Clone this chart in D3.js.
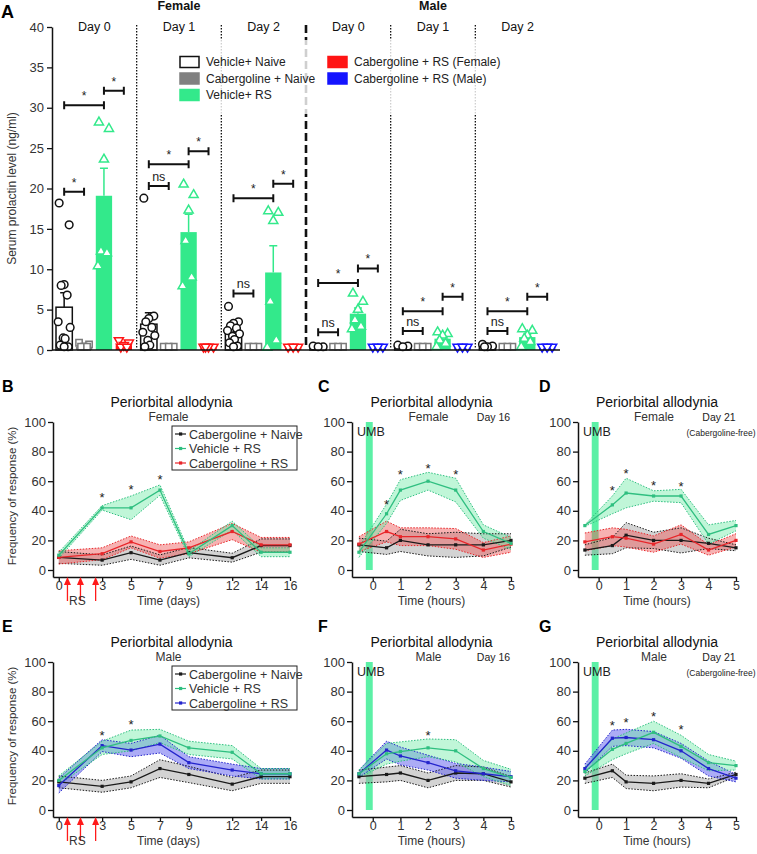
<!DOCTYPE html>
<html>
<head>
<meta charset="utf-8">
<script src="https://cdn.jsdelivr.net/npm/d3@7"></script>
<style>
    body { margin: 0; background: #ffffff; }
    svg { display: block; font-family: "Liberation Sans", Arial, sans-serif; }
</style>
</head>
<body>
<svg id="fig" width="757" height="854"></svg>
<script>
// ---- Panel A: serum prolactin (ng/ml) ----
const prolactinDays = ["Day 0", "Day 1", "Day 2", "Day 0", "Day 1", "Day 2"];
const prolactinSex = ["Female", "Male"];
const prolactinLegend = ["Vehicle+ Naive", "Cabergoline + Naive", "Vehicle+ RS", "Cabergoline + RS (Female)", "Cabergoline + RS (Male)"];
const prolactinTicks = [0, 5, 10, 15, 20, 25, 30, 35, 40];

// rows = day groups, columns = Vehicle+Naive, Cabergoline+Naive, Vehicle+RS, Cabergoline+RS
const prolactinMean = [
    [5.3, 0.4, 19.1, 0.6],
    [3.2, 0.4, 14.6, 0.4],
    [2.2, 0.4, 9.6, 0.4],
    [0.4, 0.4, 4.5, 0.4],
    [0.4, 0.4, 1.4, 0.4],
    [0.4, 0.4, 1.6, 0.4]
];
const prolactinSem = [
    [1.8, 0.1, 3.4, 0.2],
    [1.4, 0.05, 2.2, 0.05],
    [0.4, 0.05, 3.3, 0.05],
    [0.05, 0.02, 0.7, 0.02],
    [0.05, 0.02, 0.3, 0.02],
    [0.05, 0.02, 0.35, 0.02]
];
const prolactinPoints = [
    [[18.2, 15.5, 8.1, 8.0, 6.8, 3.5, 2.8, 1.5, 1.4, 0.6, 0.4, 0.4], [0.9, 0.7, 0.4, 0.4, 0.4], [28.2, 27.4, 23.6, 12.2, 12.0, 10.4], [1.2, 0.9, 0.6, 0.4, 0.4]],
    [[18.8, 4.2, 3.9, 3.5, 2.8, 2.2, 1.8, 1.2, 0.6, 0.4], [0.4, 0.4, 0.4], [20.5, 19.2, 17.3, 13.5, 9.0, 7.9], [0.4, 0.4, 0.4, 0.4]],
    [[5.4, 3.5, 3.3, 3.0, 2.7, 2.4, 2.0, 1.7, 1.3, 0.9, 0.5, 0.4], [0.4, 0.4, 0.4], [17.2, 17.0, 16.0, 6.0, 1.2, 0.3], [0.4, 0.4, 0.4]],
    [[0.5, 0.4, 0.4], [0.4, 0.4, 0.4], [7.0, 6.0, 5.0, 3.7, 2.9, 2.6], [0.4, 0.4, 0.4]],
    [[0.6, 0.5, 0.4], [0.4, 0.4, 0.4], [2.2, 2.0, 1.8, 1.2, 0.8, 0.4], [0.4, 0.4, 0.4]],
    [[0.7, 0.5, 0.4, 0.4], [0.4, 0.4, 0.4], [2.6, 2.4, 1.8, 1.4, 1.0, 0.4], [0.4, 0.4, 0.4]]
];
// [day group, from column, to column, bracket height, label]
const prolactinBrackets = [
    [0, 0, 1, 19.6, "*"], [0, 0, 2, 30.3, "*"], [0, 2, 3, 32.1, "*"],
    [1, 0, 1, 20.3, "ns"], [1, 0, 2, 23.0, "*"], [1, 2, 3, 24.6, "*"],
    [2, 0, 1, 7.0, "ns"], [2, 0, 2, 18.8, "*"], [2, 2, 3, 20.6, "*"],
    [3, 0, 1, 2.2, "ns"], [3, 0, 2, 8.3, "*"], [3, 2, 3, 10.1, "*"],
    [4, 0, 1, 2.35, "ns"], [4, 0, 2, 4.8, "*"], [4, 2, 3, 6.6, "*"],
    [5, 0, 1, 2.35, "ns"], [5, 0, 2, 4.8, "*"], [5, 2, 3, 6.6, "*"]
];

// ---- Panels B-G: periorbital allodynia, frequency of response (%) ----
const dayPoints = [0, 3, 5, 7, 9, 12, 14, 16];
const dayTicks = [0, 3, 5, 7, 9, 12, 14, 16];
const hourPoints = [-0.5, 0.5, 1, 2, 3, 4, 5];
const hourTicks = [0, 1, 2, 3, 4, 5];
const rsArrowDays = [0.6, 1.5, 2.55];
const umbWindow = [-0.25, 0];
const responseTicks = [0, 20, 40, 60, 80, 100];
const allodyniaLegend = ["Cabergoline + Naive", "Vehicle + RS", "Cabergoline + RS"];

// B: female, days
const bNaive = [8.5, 6.7, 11.7, 6.7, 11.7, 8.3, 16.5, 16.5];
const bNaiveSem = [4, 3.5, 4.5, 3.5, 3.5, 3, 4.5, 4.5];
const bVehicle = [10, 42, 42, 54, 11, 30, 12, 12];
const bVehicleSem = [2, 1.5, 8, 3.5, 2, 3, 3, 3];
const bCab = [8.5, 11, 19, 12.5, 15, 26, 17, 17];
const bCabSem = [4.5, 4, 4, 4.5, 4, 5.5, 5, 5];
const bStarX = [3, 5, 7];
const bStarY = [51, 56, 63];

// C: female, day 16
const cNaive = [17, 15, 20, 17, 17, 17, 20];
const cNaiveSem = [4.5, 4.5, 7.5, 7.5, 8.5, 7.5, 4.5];
const cVehicle = [12, 38, 54, 60, 54, 26, 18];
const cVehicleSem = [3.5, 6.5, 7, 6, 8, 4.5, 4];
const cCab = [17.5, 26, 22.5, 22.5, 21, 13.5, 17.5];
const cCabSem = [5, 7, 6, 6, 7, 5, 5.5];
const cStarX = [0.5, 1, 2, 3];
const cStarY = [46, 66, 70, 66];

// D: female, day 21
const dNaive = [13.5, 16.5, 23.5, 20, 20, 18, 15];
const dNaiveSem = [3.5, 5.5, 8.5, 5.5, 8.5, 3.5, 2];
const dVehicle = [30, 44, 52, 50, 50, 24, 30];
const dVehicleSem = [0.5, 6, 10, 3.5, 4.5, 6.5, 3.5];
const dCab = [19, 22.5, 21.5, 17.5, 24, 13.5, 20];
const dCabSem = [6, 6, 6, 5.5, 6.5, 3.5, 4.5];
const dStarX = [0.5, 1, 2, 3];
const dStarY = [55.5, 67, 58.5, 58];

// E: male, days
const eNaive = [19, 16, 19, 28, 24, 17.5, 22.5, 22.5];
const eNaiveSem = [4, 4, 4, 6, 5.5, 4.5, 4.5, 4.5];
const eVehicle = [20, 42, 47, 50, 42, 39, 24.5, 24.5];
const eVehicleSem = [3, 4.5, 7, 4.5, 4.5, 4.5, 3.5, 3.5];
const eCab = [16.5, 43.5, 40.5, 44.5, 32, 27, 24.5, 24.5];
const eCabSem = [5, 4, 4.5, 6, 4, 4, 3.5, 3.5];
const eStarX = [3, 5];
const eStarY = [52, 59.5];

// F: male, day 16
const fNaive = [22.5, 24, 25, 20, 25, 24.5, 19];
const fNaiveSem = [4.5, 5, 5, 5, 5, 4.5, 3.5];
const fVehicle = [24.5, 38, 39.5, 42, 40, 28, 22];
const fVehicleSem = [2.5, 7, 6.5, 6, 7.5, 5.5, 5.5];
const fCab = [24.5, 40.5, 36.5, 32, 26.5, 24.5, 22.5];
const fCabSem = [2.5, 6, 6, 5, 5, 4.5, 3.5];
const fStarX = [2];
const fStarY = [52];

// G: male, day 21
const gNaive = [21.5, 26.5, 19, 18, 20, 18, 24];
const gNaiveSem = [3.5, 4.5, 4.5, 5, 4.5, 3, 1.5];
const gVehicle = [26, 41, 45, 52.5, 43, 32, 30];
const gVehicleSem = [3, 7, 7, 7.5, 7.5, 5.5, 3];
const gCab = [28, 48.5, 49, 47.5, 40, 28, 21.5];
const gCabSem = [3, 5.5, 5.5, 5.5, 5, 5, 2.5];
const gStarX = [0.5, 1, 2, 3];
const gStarY = [59, 61, 65, 56];

(function () {
    "use strict";

    const svg = d3.select("#fig");
    const ink = "#333333";

    const barColors = ["#ffffff", "#808080", "#33e98b", "#ff1414"];
    const pointColors = ["#111111", "#7a7a7a", "#33e98b", "#ff1414"];
    const maleCabColor = "#1414ff";
    const jitter = [-5, 5, 0, -3, 3, -6, 6, -1, 1, -4, 4, 0];

    const style = {
        naive: { line: "#1a1a1a", fill: "#a8a8a8", opacity: 0.5 },
        vehicle: { line: "#2fbf80", fill: "#74eaa9", opacity: 0.45 },
        cabF: { line: "#e8262a", fill: "#ee5555", opacity: 0.45 },
        cabM: { line: "#2424cc", fill: "#6767ee", opacity: 0.55 }
    };

    function styleAxis(axisG, size) {
        axisG.select(".domain").attr("stroke", "#111").attr("stroke-width", 1.5);
        axisG.selectAll(".tick line").attr("stroke", "#111").attr("stroke-width", 1.3);
        axisG.selectAll(".tick text")
            .attr("fill", ink)
            .style("font-size", size + "px")
            .style("font-family", "\"Liberation Sans\", Arial, sans-serif");
    }

    function panelLetter(letter, x, y, size) {
        svg.append("text")
            .attr("x", x)
            .attr("y", y)
            .style("font-size", size + "px")
            .style("font-weight", "700")
            .attr("fill", "#000")
            .text(letter);
    }

    function symbolFor(k) {
        return [d3.symbolCircle, d3.symbolSquare, d3.symbolTriangle, d3.symbolTriangle][k];
    }

    function drawProlactin() {
        const g = svg.append("g");
        const y = d3.scaleLinear().domain([0, 40]).range([350, 27]);
        const xDay = d3.scaleBand().domain(d3.range(prolactinDays.length)).range([52, 560]);
        const xGrp = d3.scaleBand().domain(d3.range(4)).range([4, 80]).paddingInner(0.18);
        const cx = (d, k) => xDay(d) + xGrp(k) + xGrp.bandwidth() / 2;
        const colorOf = (d, k) => (k === 3 && d >= 3 ? maleCabColor : pointColors[k]);
        const fillOf = (d, k) => (k === 3 && d >= 3 ? maleCabColor : barColors[k]);

        panelLetter("A", 1, 18, 18);

        // separators between day groups
        d3.range(1, prolactinDays.length).forEach((d) => {
            const isSexSplit = d === 3;
            g.append("line")
                .attr("x1", xDay(d)).attr("x2", xDay(d))
                .attr("y1", 25).attr("y2", 349)
                .attr("stroke", "#111")
                .attr("stroke-width", isSexSplit ? 2.6 : 1.3)
                .attr("stroke-dasharray", isSexSplit ? "8,4" : "1.5,1.5");
        });

        // sex and day headers
        [[0, 3], [3, 6]].forEach(([a, b], i) => {
            g.append("text")
                .attr("x", (xDay(a) + xDay(b - 1) + xDay.bandwidth()) / 2)
                .attr("y", 10)
                .attr("text-anchor", "middle")
                .style("font-size", "12.5px")
                .style("font-weight", "700")
                .attr("fill", "#111")
                .text(prolactinSex[i]);
        });
        prolactinDays.forEach((label, d) => {
            g.append("text")
                .attr("x", xDay(d) + xDay.bandwidth() / 2)
                .attr("y", 31)
                .attr("text-anchor", "middle")
                .style("font-size", "12.5px")
                .attr("fill", "#111")
                .text(label);
        });

        // legend with a translucent backing
        const legend = g.append("g");
        legend.append("rect")
            .attr("x", 176).attr("y", 40)
            .attr("width", 326).attr("height", 74)
            .attr("fill", "#ffffff").attr("fill-opacity", 0.8);
        const legendFill = ["#ffffff", barColors[1], barColors[2], barColors[3], maleCabColor];
        prolactinLegend.forEach((label, i) => {
            const col = i < 3 ? 0 : 1;
            const row = i < 3 ? i : i - 3;
            const lx = col === 0 ? 180 : 328;
            const ly = 62 + row * 16.5;
            legend.append("rect")
                .attr("x", lx).attr("y", ly - 5.5)
                .attr("width", 19).attr("height", 11)
                .attr("fill", legendFill[i])
                .attr("stroke", i === 0 ? "#111" : legendFill[i])
                .attr("stroke-width", 1.5);
            legend.append("text")
                .attr("x", lx + 26).attr("y", ly + 4)
                .style("font-size", "12px")
                .attr("fill", "#222")
                .text(label);
        });

        // bars with upper error bars
        prolactinMean.forEach((row, d) => {
            row.forEach((m, k) => {
                g.append("rect")
                    .attr("x", xDay(d) + xGrp(k))
                    .attr("width", xGrp.bandwidth())
                    .attr("y", y(m))
                    .attr("height", y(0) - y(m))
                    .attr("fill", fillOf(d, k))
                    .attr("stroke", k === 0 ? "#111" : "none")
                    .attr("stroke-width", 1.5);
                const top = y(m + prolactinSem[d][k]);
                const c = cx(d, k);
                g.append("path")
                    .attr("d", `M${c},${y(m)}V${top}M${c - 4},${top}H${c + 4}`)
                    .attr("stroke", colorOf(d, k))
                    .attr("stroke-width", 1.5)
                    .attr("fill", "none");
            });
        });

        // individual animals
        prolactinPoints.forEach((groups, d) => {
            groups.forEach((vals, k) => {
                const sym = d3.symbol().type(symbolFor(k)).size(k === 0 ? 46 : k === 1 ? 40 : 36);
                g.append("g")
                    .selectAll("path")
                    .data(vals)
                    .join("path")
                    .attr("d", sym)
                    .attr("transform", (v, i) => `translate(${cx(d, k) + jitter[i % jitter.length]},${y(v)})${k === 3 ? " rotate(180)" : ""}`)
                    .attr("fill", "#ffffff")
                    .attr("stroke", colorOf(d, k))
                    .attr("stroke-width", 1.5);
            });
        });

        // significance brackets
        prolactinBrackets.forEach(([d, a, b, v, label]) => {
            const x1 = cx(d, a);
            const x2 = cx(d, b);
            const yy = y(v);
            g.append("path")
                .attr("d", `M${x1},${yy - 4}V${yy + 4}M${x1},${yy}H${x2}M${x2},${yy - 4}V${yy + 4}`)
                .attr("stroke", "#111")
                .attr("stroke-width", 2)
                .attr("fill", "none");
            g.append("text")
                .attr("x", (x1 + x2) / 2)
                .attr("y", yy - 5)
                .attr("text-anchor", "middle")
                .style("font-size", label === "ns" ? "12.5px" : "12px")
                .attr("fill", "#222")
                .text(label);
        });

        // axes
        const axisG = g.append("g")
            .attr("transform", "translate(52,0)")
            .call(d3.axisLeft(y).tickValues(prolactinTicks).tickSize(5).tickSizeOuter(0).tickPadding(3));
        styleAxis(axisG, 13);
        g.append("line")
            .attr("x1", 52).attr("x2", 560)
            .attr("y1", y(0)).attr("y2", y(0))
            .attr("stroke", "#111").attr("stroke-width", 1.5);

        g.append("text")
            .attr("transform", `translate(16,${(y(0) + y(40)) / 2}) rotate(-90)`)
            .attr("text-anchor", "middle")
            .style("font-size", "12px")
            .attr("fill", ink)
            .text("Serum prolactin level (ng/ml)");
    }

    function drawLinePanel(p) {
        const g = svg.append("g");
        const x = d3.scaleLinear().domain(p.xDomain).range(p.xRange);
        const y = d3.scaleLinear().domain([-4.73, 100]).range([p.yZero + 7, p.yZero - 148]);
        const xs = p.days ? dayPoints : hourPoints;
        const mid = (p.xRange[0] + p.xRange[1]) / 2;

        panelLetter(p.letter, p.letterX, p.yZero - 178, 16);

        if (!p.days) {
            g.append("rect")
                .attr("x", x(umbWindow[0]))
                .attr("width", x(umbWindow[1]) - x(umbWindow[0]))
                .attr("y", y(100))
                .attr("height", y(0) - y(100))
                .attr("fill", "#5cf0a6");
            g.append("text")
                .attr("x", p.xRange[0] + 5)
                .attr("y", y(100) + 14)
                .style("font-size", "12.5px")
                .attr("fill", "#222")
                .text("UMB");
        }

        const rowsOf = (s) => xs.map((t, i) => ({ t, m: s.mean[i], lo: s.mean[i] - s.sem[i], hi: s.mean[i] + s.sem[i] }));
        const area = d3.area().x((r) => x(r.t)).y0((r) => y(r.lo)).y1((r) => y(r.hi));
        const edgeHi = d3.line().x((r) => x(r.t)).y((r) => y(r.hi));
        const edgeLo = d3.line().x((r) => x(r.t)).y((r) => y(r.lo));
        const meanLine = d3.line().x((r) => x(r.t)).y((r) => y(r.m));

        p.series.forEach((s) => {
            g.append("path")
                .attr("d", area(rowsOf(s)))
                .attr("fill", s.style.fill)
                .attr("fill-opacity", s.style.opacity);
        });
        p.series.forEach((s) => {
            [edgeHi, edgeLo].forEach((edge) => {
                g.append("path")
                    .attr("d", edge(rowsOf(s)))
                    .attr("fill", "none")
                    .attr("stroke", s.style.line)
                    .attr("stroke-width", 1)
                    .attr("stroke-dasharray", "1.5,1.5");
            });
        });
        p.series.forEach((s) => {
            const rows = rowsOf(s);
            g.append("path")
                .attr("d", meanLine(rows))
                .attr("fill", "none")
                .attr("stroke", s.style.line)
                .attr("stroke-width", 1.3);
            g.append("g")
                .selectAll("rect")
                .data(rows)
                .join("rect")
                .attr("x", (r) => x(r.t) - 1.6)
                .attr("y", (r) => y(r.m) - 1.6)
                .attr("width", 3.2)
                .attr("height", 3.2)
                .attr("fill", s.style.line);
        });

        p.starX.forEach((t, i) => {
            g.append("text")
                .attr("x", x(t))
                .attr("y", y(p.starY[i]) + 7)
                .attr("text-anchor", "middle")
                .style("font-size", "13px")
                .attr("fill", "#222")
                .text("*");
        });

        const yAxis = g.append("g")
            .attr("transform", `translate(${p.xRange[0]},0)`)
            .call(d3.axisLeft(y).tickValues(responseTicks).tickSize(5).tickSizeOuter(0).tickPadding(2));
        styleAxis(yAxis, 13);
        const xAxis = g.append("g")
            .attr("transform", `translate(0,${p.yZero + 7})`)
            .call(d3.axisBottom(x)
                .tickValues(p.days ? dayTicks : hourTicks)
                .tickFormat(d3.format("d"))
                .tickSize(4)
                .tickSizeOuter(0)
                .tickPadding(0));
        styleAxis(xAxis, 12.5);

        g.append("text")
            .attr("x", mid + (p.days ? -3 : 0))
            .attr("y", p.yZero + 35)
            .attr("text-anchor", "middle")
            .style("font-size", "12px")
            .attr("fill", ink)
            .text(p.days ? "Time (days)" : "Time (hours)");

        if (p.yLabel) {
            g.append("text")
                .attr("transform", `translate(16,${(y(0) + y(100)) / 2}) rotate(-90)`)
                .attr("text-anchor", "middle")
                .style("font-size", "11.5px")
                .attr("fill", ink)
                .text("Frequency of response (%)");
        }

        // titles
        g.append("text")
            .attr("x", mid)
            .attr("y", p.yZero - 163)
            .attr("text-anchor", "middle")
            .style("font-size", "14px")
            .attr("fill", "#111")
            .text("Periorbital allodynia");
        g.append("text")
            .attr("x", mid - 3)
            .attr("y", p.yZero - 149)
            .attr("text-anchor", "middle")
            .style("font-size", "12px")
            .attr("fill", ink)
            .text(p.sex);
        if (p.dayNote) {
            g.append("text")
                .attr("x", mid + 62)
                .attr("y", p.yZero - 149)
                .attr("text-anchor", "middle")
                .style("font-size", "10.5px")
                .attr("fill", "#222")
                .text(p.dayNote);
        }
        if (p.freeNote) {
            g.append("text")
                .attr("x", mid + 64)
                .attr("y", p.yZero - 134)
                .attr("text-anchor", "middle")
                .style("font-size", "8.5px")
                .attr("fill", "#222")
                .text("(Cabergoline-free)");
        }

        if (p.legend) {
            const top = p.yZero - 144;
            const lg = g.append("g");
            lg.append("rect")
                .attr("x", 172).attr("y", top)
                .attr("width", 125).attr("height", 44)
                .attr("fill", "#ffffff")
                .attr("stroke", "#222")
                .attr("stroke-width", 1);
            const order = [p.series[0], p.series[2], p.series[1]];
            allodyniaLegend.forEach((label, i) => {
                const ly = top + 8 + i * 14.5;
                lg.append("line")
                    .attr("x1", 175).attr("x2", 186)
                    .attr("y1", ly).attr("y2", ly)
                    .attr("stroke", order[i].style.line)
                    .attr("stroke-width", 1.2);
                lg.append("rect")
                    .attr("x", 179).attr("y", ly - 1.6)
                    .attr("width", 3.2).attr("height", 3.2)
                    .attr("fill", order[i].style.line);
                lg.append("text")
                    .attr("x", 189).attr("y", ly + 4.5)
                    .style("font-size", "12.5px")
                    .attr("fill", ink)
                    .text(label);
            });
        }

        if (p.days) {
            const base = p.yZero + 7;
            rsArrowDays.forEach((t) => {
                const ax = x(t);
                g.append("line")
                    .attr("x1", ax).attr("x2", ax)
                    .attr("y1", base + 6).attr("y2", base + 24)
                    .attr("stroke", "#ff1a1a")
                    .attr("stroke-width", 1.3);
                g.append("path")
                    .attr("d", `M${ax},${base}L${ax - 3.5},${base + 8}L${ax + 3.5},${base + 8}Z`)
                    .attr("fill", "#ff1a1a");
            });
            g.append("text")
                .attr("x", x(rsArrowDays[1]) - 3)
                .attr("y", base + 28)
                .attr("text-anchor", "middle")
                .style("font-size", "12px")
                .attr("fill", ink)
                .text("RS");
        }
    }

    const series = (mean, sem, st) => ({ mean, sem, style: st });

    drawProlactin();

    const panels = [
        { letter: "B", letterX: 2, days: true, xDomain: [-0.4, 16], xRange: [53, 290], yZero: 570, sex: "Female", yLabel: true, legend: true,
          series: [series(bNaive, bNaiveSem, style.naive), series(bCab, bCabSem, style.cabF), series(bVehicle, bVehicleSem, style.vehicle)],
          starX: bStarX, starY: bStarY },
        { letter: "C", letterX: 318, days: false, xDomain: [-0.75, 5], xRange: [352, 511], yZero: 570, sex: "Female", dayNote: "Day 16",
          series: [series(cNaive, cNaiveSem, style.naive), series(cCab, cCabSem, style.cabF), series(cVehicle, cVehicleSem, style.vehicle)],
          starX: cStarX, starY: cStarY },
        { letter: "D", letterX: 539, days: false, xDomain: [-0.75, 5], xRange: [578, 736], yZero: 570, sex: "Female", dayNote: "Day 21", freeNote: true,
          series: [series(dNaive, dNaiveSem, style.naive), series(dCab, dCabSem, style.cabF), series(dVehicle, dVehicleSem, style.vehicle)],
          starX: dStarX, starY: dStarY },
        { letter: "E", letterX: 2, days: true, xDomain: [-0.4, 16], xRange: [53, 290], yZero: 810, sex: "Male", yLabel: true, legend: true,
          series: [series(eNaive, eNaiveSem, style.naive), series(eCab, eCabSem, style.cabM), series(eVehicle, eVehicleSem, style.vehicle)],
          starX: eStarX, starY: eStarY },
        { letter: "F", letterX: 318, days: false, xDomain: [-0.75, 5], xRange: [352, 511], yZero: 810, sex: "Male", dayNote: "Day 16",
          series: [series(fNaive, fNaiveSem, style.naive), series(fCab, fCabSem, style.cabM), series(fVehicle, fVehicleSem, style.vehicle)],
          starX: fStarX, starY: fStarY },
        { letter: "G", letterX: 539, days: false, xDomain: [-0.75, 5], xRange: [578, 736], yZero: 810, sex: "Male", dayNote: "Day 21", freeNote: true,
          series: [series(gNaive, gNaiveSem, style.naive), series(gCab, gCabSem, style.cabM), series(gVehicle, gVehicleSem, style.vehicle)],
          starX: gStarX, starY: gStarY }
    ];

    panels.forEach(drawLinePanel);
})();
</script>
</body>
</html>
